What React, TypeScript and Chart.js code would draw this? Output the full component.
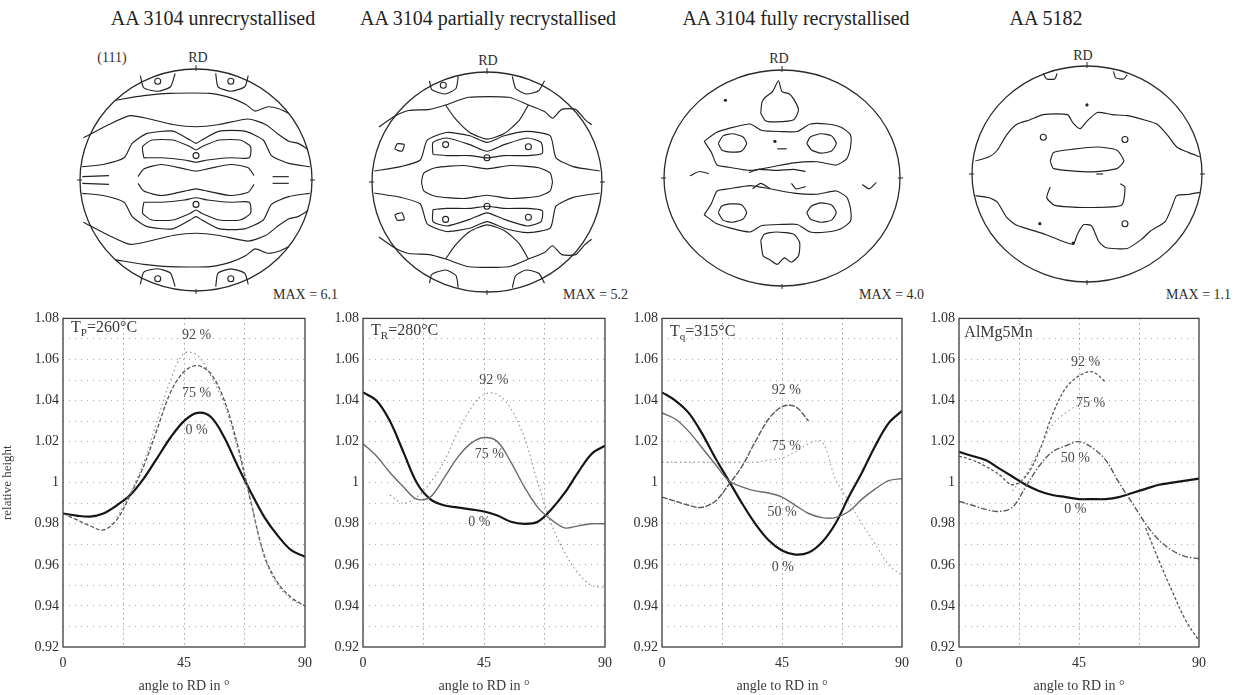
import React, { useEffect, useRef } from "react";
import { Chart, registerables } from "chart.js";
Chart.register(...registerables);

const FONT = '"Liberation Serif", "DejaVu Serif", serif';

// ---------- line chart data ----------
const ANGLES = [0, 5, 10, 15, 20, 25, 30, 35, 40, 45, 50, 55, 60, 65, 70, 75, 80, 85, 90];
const Y_TICKS = [0.92, 0.93, 0.94, 0.95, 0.96, 0.97, 0.98, 0.99, 1.0, 1.01, 1.02, 1.03, 1.04, 1.05, 1.06, 1.07, 1.08];
const X_TICKS = [0, 22.5, 45, 67.5, 90];
const X_LABELED = [0, 45, 90];

// Panel 1: AA 3104 unrecrystallised, Tp = 260 °C
const P1_0 = [0.985, 0.984, 0.9835, 0.985, 0.989, 0.994, 1.002, 1.012, 1.022, 1.03, 1.034, 1.032, 1.022, 1.008, 0.995, 0.983, 0.974, 0.967, 0.964];
const P1_75 = [0.985, 0.982, 0.979, 0.977, 0.982, 0.994, 1.008, 1.026, 1.044, 1.054, 1.057, 1.053, 1.04, 1.018, 0.99, 0.964, 0.951, 0.944, 0.94];
const P1_92 = [null, null, null, null, 0.983, 0.995, 1.01, 1.03, 1.05, 1.063, 1.062, 1.052, 1.038, 1.016, 0.99, 0.963, 0.95, 0.943, 0.94];

// Panel 2: AA 3104 partially recrystallised, TR = 280 °C
const P2_0 = [1.044, 1.04, 1.03, 1.015, 1.0, 0.992, 0.989, 0.988, 0.987, 0.986, 0.984, 0.981, 0.98, 0.981, 0.987, 0.995, 1.005, 1.014, 1.018];
const P2_75 = [1.019, 1.013, 1.005, 0.998, 0.992, 0.993, 1.002, 1.012, 1.019, 1.022, 1.02, 1.01, 0.998, 0.988, 0.982, 0.978, 0.979, 0.98, 0.98];
const P2_92 = [null, null, 0.994, 0.99, 0.993, 1.0, 1.01, 1.024, 1.036, 1.043, 1.043, 1.036, 1.022, 1.0, 0.98, 0.966, 0.956, 0.95, 0.949];

// Panel 3: AA 3104 fully recrystallised, Tq = 315 °C
const P3_0 = [1.044, 1.04, 1.034, 1.024, 1.012, 1.001, 0.99, 0.98, 0.972, 0.967, 0.965, 0.966, 0.971, 0.98, 0.993, 1.005, 1.018, 1.029, 1.035];
const P3_50 = [1.034, 1.031, 1.025, 1.017, 1.009, 1.001, 0.998, 0.996, 0.995, 0.993, 0.989, 0.985, 0.983, 0.983, 0.986, 0.992, 0.997, 1.001, 1.002];
const P3_75 = [1.01, 1.01, 1.01, 1.01, 1.01, 1.01, 1.01, 1.01, 1.011, 1.012, 1.015, 1.019, 1.02, 1.002, 0.991, 0.98, 0.97, 0.96, 0.955];
const P3_92 = [0.993, 0.991, 0.989, 0.988, 0.991, 0.999, 1.008, 1.02, 1.031, 1.037, 1.037, 1.03, null, null, null, null, null, null, null];

// Panel 4: AA 5182, AlMg5Mn
const P4_0 = [1.015, 1.013, 1.011, 1.007, 1.003, 0.999, 0.996, 0.994, 0.993, 0.992, 0.992, 0.992, 0.993, 0.995, 0.997, 0.999, 1.0, 1.001, 1.002];
const P4_50 = [0.991, 0.989, 0.987, 0.986, 0.988, 0.998, 1.008, 1.015, 1.018, 1.02, 1.017, 1.011, 1.0, 0.99, 0.98, 0.972, 0.967, 0.964, 0.963];
const P4_75 = [null, null, null, null, 0.996, 1.004, 1.016, 1.028, 1.034, 1.038, 1.04, null, null, null, null, null, null, null, null];
const P4_92 = [1.013, 1.011, 1.008, 1.004, 0.999, 1.003, 1.015, 1.033, 1.046, 1.052, 1.054, 1.049, null, null, 0.978, 0.962, 0.947, 0.933, 0.923];

// ---------- pole figure contours (normalised, y up) ----------
type Pt = [number, number];
const mirror = (c: Pt[]): Pt[] => c.map(([x, y]) => [x, -y] as Pt);

const PF1_TOP: Pt[][] = [
  [[-0.69, 0.72], [-0.45, 0.76], [-0.23, 0.78], [0.12, 0.78], [0.3, 0.74], [0.43, 0.68], [0.51, 0.62], [0.62, 0.66], [0.72, 0.64], [0.8, 0.6]],
  [[-0.48, 0.94], [-0.45, 0.83], [-0.33, 0.8], [-0.22, 0.84], [-0.18, 0.96]],
  [[0.17, 0.96], [0.19, 0.84], [0.3, 0.8], [0.42, 0.84], [0.45, 0.94]],
  [[-0.97, 0.38], [-0.75, 0.5], [-0.57, 0.58], [-0.4, 0.55], [-0.2, 0.5], [0, 0.48], [0.2, 0.5], [0.45, 0.55], [0.6, 0.5], [0.7, 0.42], [0.8, 0.35], [0.88, 0.33], [0.96, 0.28]],
  [[-0.98, 0.12], [-0.8, 0.14], [-0.62, 0.2], [-0.55, 0.33], [-0.42, 0.42], [-0.2, 0.44], [-0.05, 0.36], [0, 0.33], [0.05, 0.36], [0.2, 0.44], [0.42, 0.44], [0.58, 0.36], [0.65, 0.22], [0.8, 0.15], [0.98, 0.12]],
  [[-0.45, 0.2], [-0.46, 0.3], [-0.38, 0.36], [-0.2, 0.36], [-0.05, 0.3], [0, 0.27], [0.05, 0.3], [0.2, 0.36], [0.38, 0.36], [0.47, 0.3], [0.46, 0.2], [0.3, 0.2], [0.1, 0.18], [0, 0.16], [-0.1, 0.18], [-0.3, 0.2], [-0.45, 0.2]],
  [[-0.5, 0.03], [-0.45, 0.1], [-0.3, 0.14], [-0.1, 0.1], [0, 0.08], [0.1, 0.1], [0.3, 0.14], [0.45, 0.11], [0.5, 0.04]],
  [[-0.98, 0.03], [-0.75, 0.04]],
  [[0.66, 0.03], [0.8, 0.03]],
];
const PF1_LOOPS: Pt[] = [[-0.33, 0.89], [0.3, 0.89], [0, 0.22], [-0.33, -0.89], [0.3, -0.89], [0, -0.22]];

const PF2_TOP: Pt[][] = [
  [[-0.5, 0.92], [-0.48, 0.84], [-0.36, 0.8], [-0.27, 0.85], [-0.25, 0.96]],
  [[0.22, 0.96], [0.25, 0.85], [0.34, 0.8], [0.45, 0.83], [0.5, 0.92]],
  [[-0.94, 0.5], [-0.8, 0.6], [-0.68, 0.65], [-0.5, 0.66], [-0.36, 0.7], [-0.16, 0.77], [0.19, 0.77], [0.36, 0.7], [0.5, 0.64], [0.57, 0.58], [0.65, 0.66], [0.77, 0.66], [0.85, 0.57], [0.91, 0.52]],
  [[-0.36, 0.7], [-0.28, 0.58], [-0.15, 0.45], [0, 0.39], [0.15, 0.44], [0.28, 0.56], [0.36, 0.7]],
  [[-0.98, 0.1], [-0.75, 0.14], [-0.58, 0.2], [-0.52, 0.38], [-0.35, 0.45], [-0.15, 0.42], [0, 0.36], [0.15, 0.42], [0.35, 0.46], [0.55, 0.42], [0.6, 0.22], [0.75, 0.14], [0.98, 0.1]],
  [[-0.47, 0.25], [-0.47, 0.36], [-0.35, 0.4], [-0.15, 0.34], [0, 0.28], [0.15, 0.34], [0.35, 0.4], [0.47, 0.36], [0.48, 0.26], [0.35, 0.24], [0.15, 0.24], [0, 0.22], [-0.15, 0.24], [-0.35, 0.24], [-0.47, 0.25]],
  [[-0.57, 0], [-0.55, 0.08], [-0.45, 0.13], [-0.2, 0.15], [0, 0.12], [0.2, 0.15], [0.45, 0.13], [0.55, 0.08], [0.57, 0]],
  [[-0.78, 0.35], [-0.8, 0.3], [-0.74, 0.28], [-0.72, 0.34], [-0.78, 0.35]],
];
const PF2_LOOPS: Pt[] = [[-0.36, 0.34], [0.36, 0.32], [0, 0.22], [-0.36, -0.34], [0.36, -0.32], [0, -0.22], [-0.38, 0.88]];

const PF3_TOP: Pt[][] = [
  [[-0.66, 0.34], [-0.56, 0.42], [-0.45, 0.46], [-0.27, 0.5], [-0.17, 0.44], [0, 0.43], [0.13, 0.43], [0.24, 0.5], [0.38, 0.5], [0.5, 0.47], [0.58, 0.4], [0.58, 0.28], [0.55, 0.18], [0.46, 0.12], [0.3, 0.15], [0.1, 0.14], [-0.1, 0.1], [-0.27, 0.07], [-0.45, 0.1], [-0.55, 0.12], [-0.6, 0.24], [-0.66, 0.34]],
  [[-0.54, 0.32], [-0.5, 0.39], [-0.42, 0.41], [-0.33, 0.38], [-0.3, 0.32], [-0.34, 0.25], [-0.43, 0.24], [-0.51, 0.26], [-0.54, 0.32]],
  [[0.21, 0.32], [0.24, 0.38], [0.33, 0.41], [0.42, 0.39], [0.46, 0.32], [0.42, 0.25], [0.33, 0.23], [0.25, 0.26], [0.21, 0.32]],
];
const PF3_SINGLE: Pt[][] = [
  [[-0.18, 0.6], [-0.17, 0.7], [-0.14, 0.75], [-0.08, 0.8], [-0.03, 0.9], [0.0, 0.8], [0.06, 0.78], [0.1, 0.73], [0.14, 0.63], [0.1, 0.54], [-0.05, 0.52], [-0.14, 0.53], [-0.18, 0.6]],
  [[-0.18, -0.58], [-0.15, -0.52], [-0.05, -0.5], [0.1, -0.52], [0.15, -0.6], [0.14, -0.72], [0.08, -0.78], [0.02, -0.74], [-0.04, -0.8], [-0.1, -0.76], [-0.16, -0.72], [-0.18, -0.58]],
  [[-0.04, 0.27], [0.04, 0.27]],
  [[-0.78, 0.02], [-0.7, 0.06], [-0.62, 0.04]],
  [[-0.28, 0.05], [-0.2, 0.08], [-0.05, 0.07], [0.1, 0.08], [0.2, 0.06]],
  [[0.68, -0.06], [0.74, -0.1], [0.8, -0.04]],
  [[-0.25, -0.1], [-0.18, -0.05], [-0.1, -0.1]],
  [[0.08, -0.05], [0.12, -0.1], [0.2, -0.08]],
];
const PF3_DOTS: Pt[] = [[-0.48, 0.72], [-0.06, 0.34]];

const PF4_LINES: Pt[][] = [
  [[-0.97, 0.12], [-0.85, 0.16], [-0.78, 0.22], [-0.7, 0.36], [-0.61, 0.46], [-0.5, 0.5], [-0.38, 0.55], [-0.17, 0.55], [-0.12, 0.47], [-0.06, 0.42], [0, 0.49], [0.09, 0.57], [0.22, 0.55], [0.35, 0.54], [0.5, 0.5], [0.61, 0.46], [0.7, 0.36], [0.78, 0.25], [0.88, 0.2], [0.98, 0.16]],
  [[-0.97, -0.2], [-0.85, -0.22], [-0.78, -0.26], [-0.7, -0.4], [-0.62, -0.47], [-0.48, -0.52], [-0.36, -0.56], [-0.22, -0.62], [-0.12, -0.65], [-0.08, -0.55], [-0.03, -0.47], [0.04, -0.48], [0.1, -0.62], [0.16, -0.68], [0.35, -0.69], [0.48, -0.6], [0.55, -0.53], [0.68, -0.44], [0.74, -0.3], [0.78, -0.2], [0.88, -0.19], [0.98, -0.17]],
  [[-0.32, 0.12], [-0.29, 0.2], [-0.12, 0.23], [0.09, 0.25], [0.26, 0.22], [0.32, 0.12], [0.26, 0.05], [0.03, 0.02], [-0.29, 0.05], [-0.32, 0.12]],
  [[0.29, -0.09], [0.33, -0.12], [0.3, -0.29], [-0.03, -0.31], [-0.28, -0.29], [-0.35, -0.22], [-0.32, -0.12]],
  [[0.08, 0.0], [0.14, 0.0]],
  [[-0.38, 0.93], [-0.35, 0.88], [-0.28, 0.88], [-0.26, 0.93]],
  [[0.23, 0.95], [0.25, 0.89], [0.32, 0.88], [0.35, 0.92]],
];
const PF4_LOOPS: Pt[] = [[-0.38, 0.34], [0.33, 0.32], [0.33, -0.46]];
const PF4_DOTS: Pt[] = [[0, 0.64], [-0.41, -0.46], [-0.12, -0.64]];

// ---------- plugins ----------
type Note = { text: string; x: number; y: number };
type Tag = { main: string; sub?: string; rest?: string; x: number; y: number };

const framePlugin = (notes: Note[], tag: Tag) => ({
  id: "frameNotes",
  afterDraw(chart: any) {
    const { ctx, chartArea, scales } = chart;
    const { left, top, right, bottom } = chartArea;
    ctx.save();
    ctx.strokeStyle = "#3c3c3c";
    ctx.lineWidth = 1.3;
    ctx.strokeRect(left, top, right - left, bottom - top);
    ctx.fillStyle = "#4a4a4a";
    ctx.font = `14px ${FONT}`;
    ctx.textAlign = "center";
    ctx.textBaseline = "middle";
    notes.forEach((n) => ctx.fillText(n.text, scales.x.getPixelForValue(n.x), scales.y.getPixelForValue(n.y)));
    let px = scales.x.getPixelForValue(tag.x);
    const py = scales.y.getPixelForValue(tag.y);
    ctx.textAlign = "left";
    ctx.fillStyle = "#3a3a3a";
    ctx.font = `16px ${FONT}`;
    ctx.fillText(tag.main, px, py);
    px += ctx.measureText(tag.main).width;
    if (tag.sub) {
      ctx.font = `11px ${FONT}`;
      ctx.fillText(tag.sub, px, py + 5);
      px += ctx.measureText(tag.sub).width;
    }
    if (tag.rest) {
      ctx.font = `16px ${FONT}`;
      ctx.fillText(tag.rest, px, py);
    }
    ctx.restore();
  },
});

const polePlugin = {
  id: "poleOutline",
  beforeDatasetsDraw(chart: any) {
    const { ctx, scales } = chart;
    const cx = scales.x.getPixelForValue(0);
    const cy = scales.y.getPixelForValue(0);
    const rx = scales.x.getPixelForValue(1) - cx;
    const ry = cy - scales.y.getPixelForValue(1);
    ctx.save();
    ctx.strokeStyle = "#2a2a2a";
    ctx.lineWidth = 1.3;
    ctx.beginPath();
    ctx.ellipse(cx, cy, rx, ry, 0, 0, Math.PI * 2);
    ctx.stroke();
    ctx.lineWidth = 1;
    ctx.beginPath();
    ctx.moveTo(cx, cy - ry - 4); ctx.lineTo(cx, cy - ry + 2);
    ctx.moveTo(cx, cy + ry - 2); ctx.lineTo(cx, cy + ry + 3);
    ctx.moveTo(cx - rx - 3, cy); ctx.lineTo(cx - rx + 2, cy);
    ctx.moveTo(cx + rx - 2, cy); ctx.lineTo(cx + rx + 3, cy);
    ctx.stroke();
    ctx.restore();
  },
};

// ---------- components ----------
type Series = { values: (number | null)[]; color: string; width: number; dash: number[] };

function LinePanel(props: { left: number; yWidth: number; plotW: number; series: Series[]; notes: Note[]; tag: Tag; yTitle?: string }) {
  const ref = useRef<HTMLCanvasElement>(null);
  const width = props.yWidth + props.plotW + 4;
  const height = 389;
  useEffect(() => {
    const tickFont = { family: FONT, size: 14 };
    const chart = new Chart(ref.current!, {
      type: "line",
      data: {
        datasets: props.series.map((s) => ({
          data: ANGLES.map((a, i) => ({ x: a, y: s.values[i] })),
          borderColor: s.color,
          borderWidth: s.width,
          borderDash: s.dash,
          pointRadius: 0,
          fill: false,
          tension: 0.35,
          spanGaps: false,
        })) as any,
      },
      options: {
        responsive: false,
        animation: false,
        devicePixelRatio: 1,
        events: [],
        layout: { padding: { top: 10, right: 4, left: 0, bottom: 0 } },
        scales: {
          x: {
            type: "linear",
            min: 0,
            max: 90,
            afterBuildTicks: (s: any) => { s.ticks = X_TICKS.map((v) => ({ value: v })); },
            afterFit: (s: any) => { s.height = 48; },
            ticks: {
              autoSkip: false,
              maxRotation: 0,
              padding: 8,
              color: "#2e2e2e",
              font: tickFont,
              callback: (v: any) => (X_LABELED.includes(Number(v)) ? String(v) : ""),
            },
            grid: { drawTicks: false, color: (c: any) => (c.tick && (c.tick.value === 0 || c.tick.value === 90) ? "rgba(0,0,0,0)" : "rgba(0,0,0,0.55)"), lineWidth: 1 },
            border: { display: false, dash: [1, 4] },
            title: { display: true, text: "angle to RD in °", color: "#3a3a3a", font: { family: FONT, size: 14 }, padding: { top: 0, bottom: 0 } },
          },
          y: {
            type: "linear",
            min: 0.92,
            max: 1.08,
            afterBuildTicks: (s: any) => { s.ticks = Y_TICKS.map((v) => ({ value: v })); },
            afterFit: (s: any) => { s.width = props.yWidth; },
            ticks: {
              autoSkip: false,
              padding: 4,
              color: "#2e2e2e",
              font: tickFont,
              callback: (v: any) => {
                const r = Math.round(Number(v) * 100);
                if (r % 2 !== 0) return "";
                return r === 100 ? "1" : (r / 100).toFixed(2);
              },
            },
            grid: { drawTicks: false, color: (c: any) => (c.tick && (Math.round(c.tick.value * 100) === 92 || Math.round(c.tick.value * 100) === 108) ? "rgba(0,0,0,0)" : "rgba(0,0,0,0.35)"), lineWidth: 1 },
            border: { display: false, dash: [1, 5] },
            title: { display: !!props.yTitle, text: props.yTitle || "", color: "#3a3a3a", font: { family: FONT, size: 13 }, padding: { top: 0, bottom: 2 } },
          },
        },
        plugins: { legend: { display: false }, tooltip: { enabled: false } },
      } as any,
      plugins: [framePlugin(props.notes, props.tag)],
    });
    return () => chart.destroy();
  }, []);
  return <canvas ref={ref} width={width} height={height} style={{ position: "absolute", left: props.left, top: 306, width, height }} />;
}

function PoleFigure(props: { cx: number; cy: number; rx: number; ry: number; lines: Pt[][]; loops?: Pt[]; dots?: Pt[] }) {
  const ref = useRef<HTMLCanvasElement>(null);
  const pad = 6;
  const width = 2 * props.rx + 2 * pad;
  const height = 2 * props.ry + 2 * pad;
  useEffect(() => {
    const datasets: any[] = props.lines.map((c) => ({
      data: c.map(([x, y]) => ({ x, y })),
      showLine: true,
      borderColor: "#222",
      borderWidth: 1.15,
      pointRadius: 0,
      tension: 0.2,
      fill: false,
    }));
    if (props.loops) datasets.push({ data: props.loops.map(([x, y]) => ({ x, y })), showLine: false, pointRadius: 3, pointBorderWidth: 1.1, pointBorderColor: "#222", pointBackgroundColor: "rgba(0,0,0,0)" });
    if (props.dots) datasets.push({ data: props.dots.map(([x, y]) => ({ x, y })), showLine: false, pointRadius: 1.6, pointBorderWidth: 0, pointBackgroundColor: "#222" });
    const chart = new Chart(ref.current!, {
      type: "scatter",
      data: { datasets },
      options: {
        responsive: false,
        animation: false,
        devicePixelRatio: 1,
        events: [],
        layout: { padding: pad },
        scales: { x: { type: "linear", min: -1, max: 1, display: false }, y: { type: "linear", min: -1, max: 1, display: false } },
        plugins: { legend: { display: false }, tooltip: { enabled: false } },
      } as any,
      plugins: [polePlugin],
    });
    return () => chart.destroy();
  }, []);
  return <canvas ref={ref} width={width} height={height} style={{ position: "absolute", left: props.cx - props.rx - pad, top: props.cy - props.ry - pad, width, height }} />;
}

const txt = (s: React.CSSProperties): React.CSSProperties => ({ position: "absolute", whiteSpace: "nowrap", fontFamily: FONT, color: "#2e2e2e", lineHeight: 1, ...s });

const withMirror = (top: Pt[][]) => [...top, ...top.map(mirror)];

export default function App() {
  const S0 = { color: "#151515", width: 2.2, dash: [] as number[] };
  return (
    <div style={{ position: "absolute", left: 0, top: 0, width: 1247, height: 695, background: "#fff", overflow: "hidden" }}>
      {/* titles */}
      <div style={txt({ left: 213, top: 8, fontSize: 20, transform: "translateX(-50%)", color: "#222" })}>AA 3104 unrecrystallised</div>
      <div style={txt({ left: 488, top: 8, fontSize: 20, transform: "translateX(-50%)", color: "#222" })}>AA 3104 partially recrystallised</div>
      <div style={txt({ left: 796, top: 8, fontSize: 20, transform: "translateX(-50%)", color: "#222" })}>AA 3104 fully recrystallised</div>
      <div style={txt({ left: 1046, top: 8, fontSize: 20, transform: "translateX(-50%)", color: "#222" })}>AA 5182</div>

      {/* pole figure labels */}
      <div style={txt({ left: 112, top: 51, fontSize: 14, transform: "translateX(-50%)" })}>(111)</div>
      <div style={txt({ left: 198, top: 51, fontSize: 14, transform: "translateX(-50%)" })}>RD</div>
      <div style={txt({ left: 488, top: 54, fontSize: 14, transform: "translateX(-50%)" })}>RD</div>
      <div style={txt({ left: 779, top: 52, fontSize: 14, transform: "translateX(-50%)" })}>RD</div>
      <div style={txt({ left: 1083, top: 49, fontSize: 14, transform: "translateX(-50%)" })}>RD</div>
      <div style={txt({ left: 273, top: 288, fontSize: 14 })}>MAX = 6.1</div>
      <div style={txt({ left: 563, top: 288, fontSize: 14 })}>MAX = 5.2</div>
      <div style={txt({ left: 859, top: 288, fontSize: 14 })}>MAX = 4.0</div>
      <div style={txt({ left: 1166, top: 288, fontSize: 14 })}>MAX = 1.1</div>

      <PoleFigure cx={196} cy={180} rx={116} ry={111} lines={withMirror(PF1_TOP)} loops={PF1_LOOPS} />
      <PoleFigure cx={487} cy={182} rx={115} ry={110} lines={withMirror(PF2_TOP)} loops={PF2_LOOPS} />
      <PoleFigure cx={782} cy={178} rx={118} ry={108} lines={[...withMirror(PF3_TOP), ...PF3_SINGLE]} dots={PF3_DOTS} />
      <PoleFigure cx={1087} cy={174} rx={115} ry={108} lines={PF4_LINES} loops={PF4_LOOPS} dots={PF4_DOTS} />

      <LinePanel
        left={0} yWidth={63} plotW={253} yTitle="relative height"
        series={[
          { values: P1_92, color: "#8c8c8c", width: 1.1, dash: [1.5, 3] },
          { values: P1_75, color: "#555", width: 1.3, dash: [4, 2] },
          { values: P1_0, ...S0 },
        ]}
        notes={[{ text: "92 %", x: 49.7, y: 1.0716 }, { text: "75 %", x: 49.7, y: 1.0433 }, { text: "0 %", x: 49.7, y: 1.0255 }]}
        tag={{ main: "T", sub: "P", rest: "=260°C", x: 3, y: 1.0755 }}
      />
      <LinePanel
        left={323} yWidth={40} plotW={253}
        series={[
          { values: P2_92, color: "#8c8c8c", width: 1.1, dash: [1.5, 3] },
          { values: P2_75, color: "#6a6a6a", width: 1.4, dash: [] },
          { values: P2_0, ...S0 },
        ]}
        notes={[{ text: "92 %", x: 48.7, y: 1.0498 }, { text: "75 %", x: 47, y: 1.0136 }, { text: "0 %", x: 43.3, y: 0.9805 }]}
        tag={{ main: "T", sub: "R", rest: "=280°C", x: 3, y: 1.074 }}
      />
      <LinePanel
        left={622} yWidth={40} plotW={251}
        series={[
          { values: P3_75, color: "#999", width: 1.1, dash: [1.5, 3] },
          { values: P3_92, color: "#5a5a5a", width: 1.4, dash: [6, 1.5] },
          { values: P3_50, color: "#6a6a6a", width: 1.4, dash: [] },
          { values: P3_0, ...S0 },
        ]}
        notes={[{ text: "92 %", x: 46.6, y: 1.045 }, { text: "75 %", x: 46.6, y: 1.0177 }, { text: "50 %", x: 45, y: 0.9855 }, { text: "0 %", x: 45.3, y: 0.959 }]}
        tag={{ main: "T", sub: "q", rest: "=315°C", x: 3, y: 1.0733 }}
      />
      <LinePanel
        left={919} yWidth={40} plotW={251}
        series={[
          { values: P4_75, color: "#999", width: 1.1, dash: [1.5, 3] },
          { values: P4_92, color: "#555", width: 1.3, dash: [3, 2] },
          { values: P4_50, color: "#5a5a5a", width: 1.4, dash: [6, 2, 1.5, 2] },
          { values: P4_0, ...S0 },
        ]}
        notes={[{ text: "92 %", x: 47.5, y: 1.0587 }, { text: "75 %", x: 49.3, y: 1.0387 }, { text: "50 %", x: 43.6, y: 1.012 }, { text: "0 %", x: 43.6, y: 0.987 }]}
        tag={{ main: "AlMg5Mn", x: 2, y: 1.073 }}
      />
    </div>
  );
}
